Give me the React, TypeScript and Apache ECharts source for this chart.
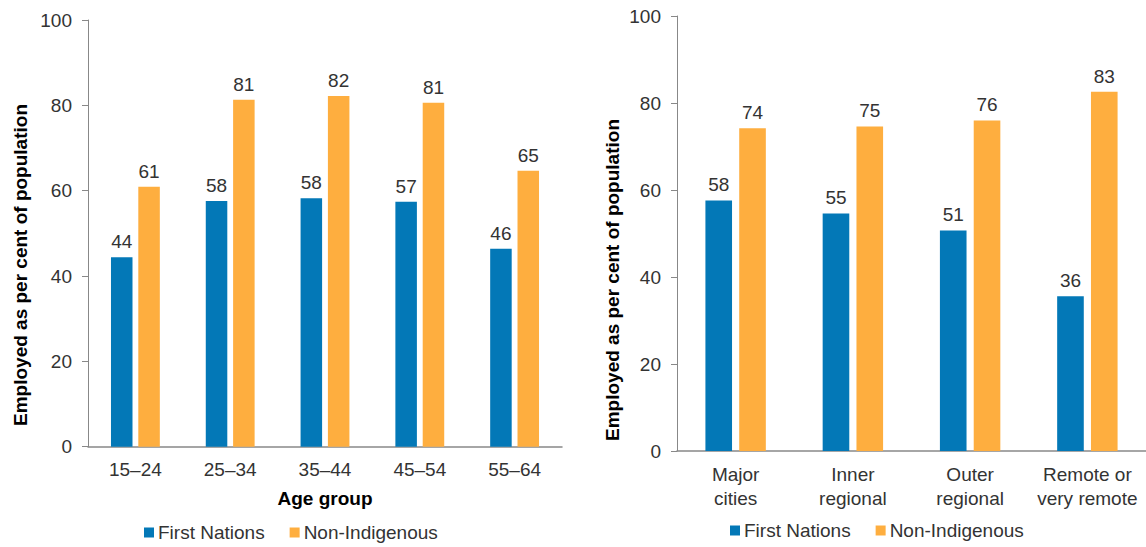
import React, { useEffect, useRef } from "react";
import * as echarts from "echarts";

const ageGroups = ["15–24", "25–34", "35–44", "45–54", "55–64"];
const ageFirstNations = [44.4, 57.6, 58.2, 57.4, 46.4];
const ageNonIndigenous = [60.9, 81.3, 82.2, 80.6, 64.7];

const remoteness = ["Major\ncities", "Inner\nregional", "Outer\nregional", "Remote or\nvery remote"];
const remFirstNations = [57.6, 54.6, 50.7, 35.6];
const remNonIndigenous = [74.2, 74.6, 76.0, 82.6];

const yTicks = { min: 0, max: 100, interval: 20 };

const FONT = "'Liberation Sans', Arial, sans-serif";
const FS = 19;
const TEXT = "#333333";
const AXIS = "#888888";
const BLUE = "#0378b7";
const ORANGE = "#feae3f";

export default function App() {
  const ref = useRef<HTMLDivElement>(null);
  useEffect(() => {
    if (!ref.current) return;
    const chart = echarts.init(ref.current, null, { renderer: "svg" });
    const yAxisCommon = (gridIndex: number) => ({
      type: "value",
      gridIndex,
      min: yTicks.min,
      max: yTicks.max,
      interval: yTicks.interval,
      axisLine: { show: true, lineStyle: { color: AXIS, width: 1 } },
      axisTick: { show: true, length: 6, lineStyle: { color: AXIS } },
      splitLine: { show: false },
      axisLabel: { fontSize: FS, color: TEXT, fontFamily: FONT, margin: 16 },
    });
    const xAxisCommon = (gridIndex: number, data: string[]) => ({
      type: "category",
      gridIndex,
      data,
      axisLine: { show: true, lineStyle: { color: AXIS, width: 1.5 } },
      axisTick: { show: false },
      axisLabel: {
        fontSize: FS,
        color: TEXT,
        fontFamily: FONT,
        margin: 11,
        lineHeight: 24,
        interval: 0,
      },
    });
    const label = {
      show: true,
      position: "top",
      distance: 6,
      fontSize: FS,
      color: TEXT,
      fontFamily: FONT,
      formatter: (p: any) => String(Math.round(p.value)),
    };
    const barCommon = {
      type: "bar",
      barWidth: "22.7%",
      barGap: "27%",
      label,
    };
    const legendCommon = {
      icon: "rect",
      itemWidth: 10,
      itemHeight: 10,
      itemGap: 25,
      padding: 0,
      textStyle: { fontSize: FS, color: TEXT, fontFamily: FONT, padding: [0, 0, 0, -1] },
      data: ["First Nations", "Non-Indigenous"],
    };
    const title = (text: string, x: number, y: number, rotated: boolean) => ({
      type: "text",
      x,
      y,
      rotation: rotated ? Math.PI / 2 : 0,
      style: {
        text,
        fontSize: FS,
        fontWeight: "bold",
        fill: "#000000",
        fontFamily: FONT,
        align: "center",
        verticalAlign: "middle",
      },
    });
    chart.setOption({
      animation: false,
      textStyle: { fontFamily: FONT },
      grid: [
        { left: 88, top: 20, width: 474, height: 426.7 },
        { left: 677, top: 16, width: 473, height: 435 },
      ],
      xAxis: [xAxisCommon(0, ageGroups), xAxisCommon(1, remoteness)],
      yAxis: [yAxisCommon(0), yAxisCommon(1)],
      legend: [
        { ...legendCommon, left: 144, top: 523 },
        { ...legendCommon, left: 730, top: 521 },
      ],
      series: [
        { ...barCommon, name: "First Nations", xAxisIndex: 0, yAxisIndex: 0, data: ageFirstNations, itemStyle: { color: BLUE } },
        { ...barCommon, name: "Non-Indigenous", xAxisIndex: 0, yAxisIndex: 0, data: ageNonIndigenous, itemStyle: { color: ORANGE } },
        { ...barCommon, name: "First Nations", xAxisIndex: 1, yAxisIndex: 1, data: remFirstNations, itemStyle: { color: BLUE } },
        { ...barCommon, name: "Non-Indigenous", xAxisIndex: 1, yAxisIndex: 1, data: remNonIndigenous, itemStyle: { color: ORANGE } },
      ],
      graphic: [
        title("Employed as per cent of population", 20, 265, true),
        title("Employed as per cent of population", 612, 280, true),
        title("Age group", 325, 498, false),
      ],
    });
    return () => chart.dispose();
  }, []);
  return (
    <div
      ref={ref}
      style={{ position: "fixed", left: 0, top: 0, width: 1146, height: 547, background: "#ffffff" }}
    />
  );
}
